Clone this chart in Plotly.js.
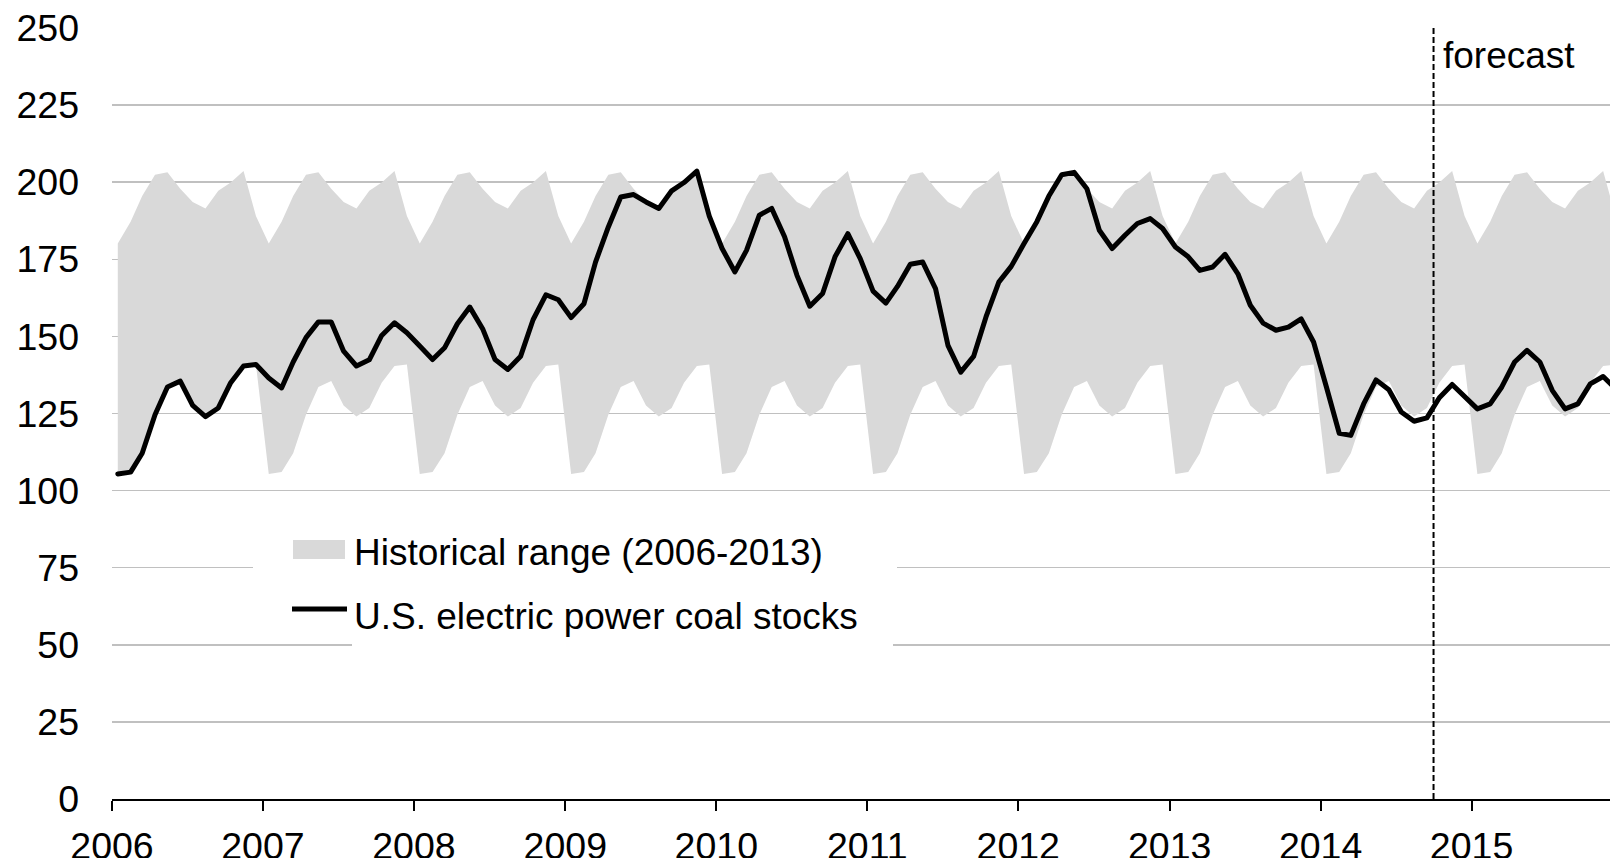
<!DOCTYPE html>
<html>
<head>
<meta charset="utf-8">
<script src="https://cdn.plot.ly/plotly-3.0.1.min.js"></script>
<style>
  html, body { margin: 0; padding: 0; background: #ffffff; }
  #chart { width: 1610px; height: 858px; }
  path.js-line { stroke-linejoin: round; stroke-linecap: round; }
</style>
</head>
<body>
<div id="chart"></div>
<script>
// ---- data (million short tons) ----
const years = [2006, 2007, 2008, 2009, 2010, 2011, 2012, 2013, 2014, 2015];
const monthNums = ['01','02','03','04','05','06','07','08','09','10','11','12'];

// Historical range 2006-2013, by calendar month (Jan..Dec)
const histMin = [105.4, 106.0, 112.1, 124.6, 133.6, 135.5, 127.6, 124.0, 126.8, 135.0, 140.4, 140.9];
const histMax = [180.1, 187.2, 195.5, 202.4, 203.2, 197.9, 193.6, 191.5, 197.2, 199.9, 203.6, 189.0];

// U.S. electric power coal stocks, monthly, by year
const stocks2006 = [105.4, 106.0, 112.1, 124.6, 133.6, 135.5, 127.6, 124.0, 126.8, 135.0, 140.4, 140.9];
const stocks2007 = [136.5, 133.3, 141.7, 149.6, 154.7, 154.7, 145.2, 140.4, 142.4, 150.3, 154.4, 151.2];
const stocks2008 = [146.9, 142.5, 146.3, 154.1, 159.5, 152.5, 142.5, 139.3, 143.6, 155.4, 163.5, 161.9];
const stocks2009 = [156.1, 160.6, 174.1, 185.5, 195.2, 196.0, 193.6, 191.5, 197.2, 199.9, 203.6, 189.0];
const stocks2010 = [178.5, 170.9, 177.9, 189.3, 191.5, 182.3, 169.8, 159.8, 163.9, 175.8, 183.3, 175.2];
const stocks2011 = [164.7, 160.8, 166.2, 173.4, 174.1, 165.5, 147.1, 138.4, 143.5, 156.3, 167.6, 172.7];
const stocks2012 = [180.1, 187.2, 195.5, 202.4, 203.2, 197.9, 184.4, 178.5, 182.8, 186.6, 188.2, 185.0];
const stocks2013 = [179.0, 175.8, 171.4, 172.5, 176.6, 170.3, 160.1, 154.3, 152.0, 153.0, 155.7, 148.2];
const stocks2014 = [133.6, 118.6, 117.9, 128.1, 135.9, 132.7, 125.5, 122.5, 123.6, 130.1, 134.4, 130.3];
const stocks2015 = [126.5, 128.1, 133.6, 141.7, 145.5, 141.7, 132.5, 126.5, 128.1, 134.6, 137.0, 133.0];
const stocksByYear = [stocks2006, stocks2007, stocks2008, stocks2009, stocks2010,
                      stocks2011, stocks2012, stocks2013, stocks2014, stocks2015];

const yTicks = [0, 25, 50, 75, 100, 125, 150, 175, 200, 225, 250];
const forecastStart = '2014-10-01';
const legendLabels = ['Historical range (2006-2013)', 'U.S. electric power coal stocks'];
const forecastLabel = 'forecast';

// ---- assemble series (mid-month dates) ----
const dates = [], stocks = [], bandLow = [], bandHigh = [];
years.forEach((yr, yi) => {
  monthNums.forEach((mm, mi) => {
    dates.push(yr + '-' + mm + '-15');
    stocks.push(stocksByYear[yi][mi]);
    bandLow.push(histMin[mi]);
    bandHigh.push(histMax[mi]);
  });
});

const FONT = '"Liberation Sans", Arial, Helvetica, sans-serif';
const BAND = '#d9d9d9';
const LINE_W = 5;

const traces = [
  { x: dates, y: bandLow, type: 'scatter', mode: 'lines',
    line: { width: 0, color: BAND }, hoverinfo: 'skip', showlegend: false },
  { x: dates, y: bandHigh, type: 'scatter', mode: 'lines', fill: 'tonexty',
    fillcolor: BAND, line: { width: 0, color: BAND }, name: legendLabels[0], showlegend: false },
  { x: dates, y: stocks, type: 'scatter', mode: 'lines',
    line: { width: LINE_W, color: '#000000' }, name: legendLabels[1], showlegend: false }
];

// plot area geometry helpers for the hand-drawn legend (paper coords)
const PL = 112, PW = 1498, PT = 28, PH = 771;
const px = v => (v - PL) / PW;
const py = v => (PT + PH - v) / PH;

const layout = {
  width: 1610, height: 858,
  margin: { l: PL, r: 0, t: PT, b: 858 - PT - PH, pad: 0 },
  paper_bgcolor: '#ffffff', plot_bgcolor: '#ffffff',
  font: { family: FONT, color: '#000000', size: 37 },
  showlegend: false,
  xaxis: {
    type: 'date',
    range: ['2006-01-01', '2015-12-01 15:00'],
    tickvals: years.map(y => y + '-01-01'),
    ticktext: years.map(String),
    ticks: 'outside', ticklen: 10, tickwidth: 2, tickcolor: '#000000',
    showline: true, linecolor: '#000000', linewidth: 2,
    showgrid: false, zeroline: false,
    tickfont: { family: FONT, size: 37.5, color: '#000000' },
    ticklabelstandoff: 3
  },
  yaxis: {
    range: [0, 250],
    tickvals: yTicks,
    ticks: '', showline: false, zeroline: false,
    showgrid: true, gridcolor: '#c0c0c0', gridwidth: 1.5,
    tickfont: { family: FONT, size: 37.5, color: '#000000' },
    ticklabelstandoff: 32
  },
  shapes: [
    // forecast divider
    { type: 'line', xref: 'x', yref: 'paper', x0: forecastStart, x1: forecastStart, y0: 0, y1: 1,
      line: { color: '#000000', width: 2, dash: '6px,3px' }, layer: 'above' },
    // legend background masks (hide gridlines behind legend entries)
    { type: 'rect', xref: 'paper', yref: 'paper', x0: px(253), x1: px(897), y0: py(592), y1: py(535),
      fillcolor: '#ffffff', line: { width: 0 }, layer: 'above' },
    { type: 'rect', xref: 'paper', yref: 'paper', x0: px(352), x1: px(893), y0: py(655), y1: py(600),
      fillcolor: '#ffffff', line: { width: 0 }, layer: 'above' },
    // legend keys
    { type: 'rect', xref: 'paper', yref: 'paper', x0: px(293), x1: px(345), y0: py(559), y1: py(540),
      fillcolor: BAND, line: { width: 0 }, layer: 'above' },
    { type: 'line', xref: 'paper', yref: 'paper', x0: px(292), x1: px(347), y0: py(609), y1: py(609),
      line: { color: '#000000', width: LINE_W }, layer: 'above' }
  ],
  annotations: [
    { xref: 'paper', yref: 'paper', x: px(352), y: py(552), xanchor: 'left', yanchor: 'middle',
      text: legendLabels[0], showarrow: false, font: { family: FONT, size: 37, color: '#000000' } },
    { xref: 'paper', yref: 'paper', x: px(352), y: py(616), xanchor: 'left', yanchor: 'middle',
      text: legendLabels[1], showarrow: false, font: { family: FONT, size: 37, color: '#000000' } },
    { xref: 'x', yref: 'paper', x: forecastStart, y: py(56), xanchor: 'left', yanchor: 'middle',
      xshift: 7, text: forecastLabel, showarrow: false, font: { family: FONT, size: 37, color: '#000000' } }
  ]
};

Plotly.newPlot('chart', traces, layout, { staticPlot: true, displayModeBar: false });
</script>
</body>
</html>
